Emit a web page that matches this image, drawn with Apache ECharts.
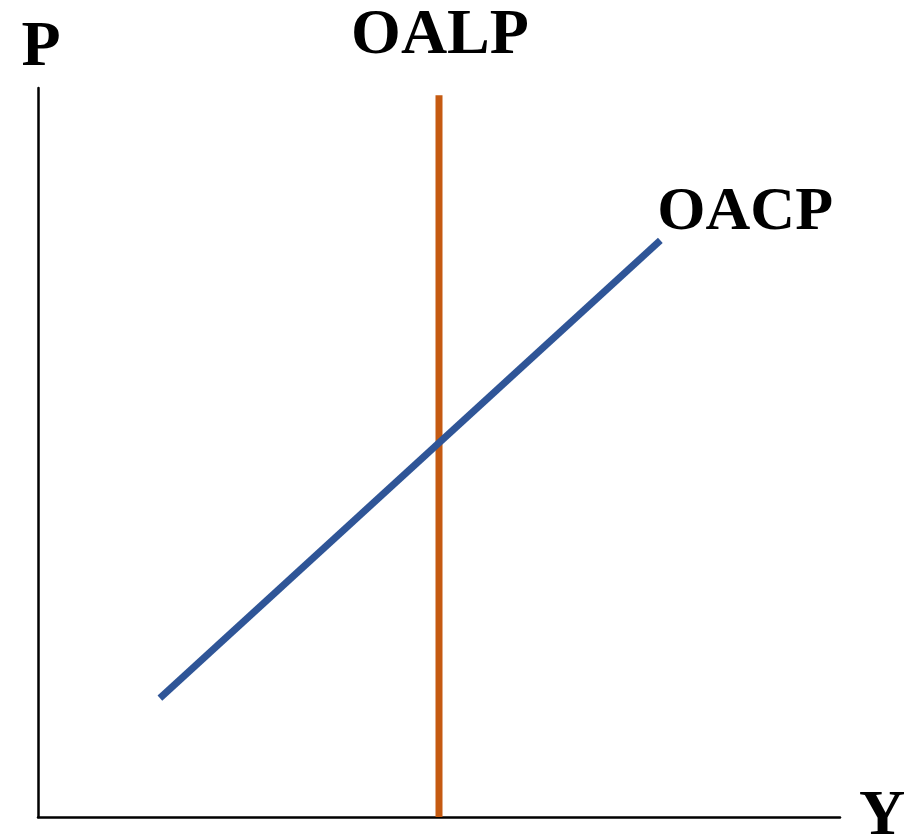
<!DOCTYPE html>
<html>
<head>
<meta charset="utf-8">
<script src="https://cdn.jsdelivr.net/npm/echarts@6/dist/echarts.min.js"></script>
<style>
  html, body { margin: 0; padding: 0; background: #fff; }
  #chart { width: 913px; height: 836px; }
</style>
</head>
<body>
<div id="chart"></div>
<script>
// curve points, in axis units (0-100 on both axes)
var oalpX = [50, 50];
var oalpY = [0, 99];
var oacpX = [15.2, 77.6];
var oacpY = [16.3, 79.1];

var serif = 'Liberation Serif';

function pairs(xs, ys) {
  var out = [];
  for (var i = 0; i < xs.length; i++) out.push([xs[i], ys[i]]);
  return out;
}

var chart = echarts.init(document.getElementById('chart'));

var option = {
  animation: false,
  grid: { left: 38, right: 73, top: 88, bottom: 19, outerBoundsMode: 'none', containLabel: false },
  xAxis: {
    type: 'value', min: 0, max: 100,
    name: 'Y', nameLocation: 'end', nameGap: 19,
    nameTextStyle: { fontFamily: serif, fontWeight: 'bold', fontSize: 64, color: '#000', verticalAlign: 'middle', padding: [30, 0, 0, 0] },
    axisLine: { lineStyle: { color: '#000', width: 2.5 } },
    axisTick: { show: false }, axisLabel: { show: false }, splitLine: { show: false }
  },
  yAxis: {
    type: 'value', min: 0, max: 100,
    name: 'P', nameLocation: 'end', nameGap: 8,
    nameTextStyle: { fontFamily: serif, fontWeight: 'bold', fontSize: 64, color: '#000', align: 'center', padding: [0, 0, 0, 6] },
    axisLine: { lineStyle: { color: '#000', width: 2.5 } },
    axisTick: { show: false }, axisLabel: { show: false }, splitLine: { show: false }
  },
  series: [
    {
      name: 'OALP', type: 'line', symbol: 'none',
      lineStyle: { color: '#C55A11', width: 7, cap: 'butt' },
      endLabel: {
        show: true, formatter: 'OALP', align: 'center', verticalAlign: 'bottom',
        distance: 0, offset: [1, -27],
        fontFamily: serif, fontWeight: 'bold', fontSize: 64, color: '#000'
      },
      data: pairs(oalpX, oalpY)
    },
    {
      name: 'OACP', type: 'line', symbol: 'none',
      lineStyle: { color: '#2F5597', width: 7, cap: 'butt' },
      endLabel: {
        show: true, formatter: 'OACP', align: 'left', verticalAlign: 'bottom',
        distance: 0, offset: [-3, 4],
        fontFamily: serif, fontWeight: 'bold', fontSize: 62, color: '#000'
      },
      data: pairs(oacpX, oacpY)
    }
  ]
};

chart.setOption(option);
</script>
</body>
</html>
